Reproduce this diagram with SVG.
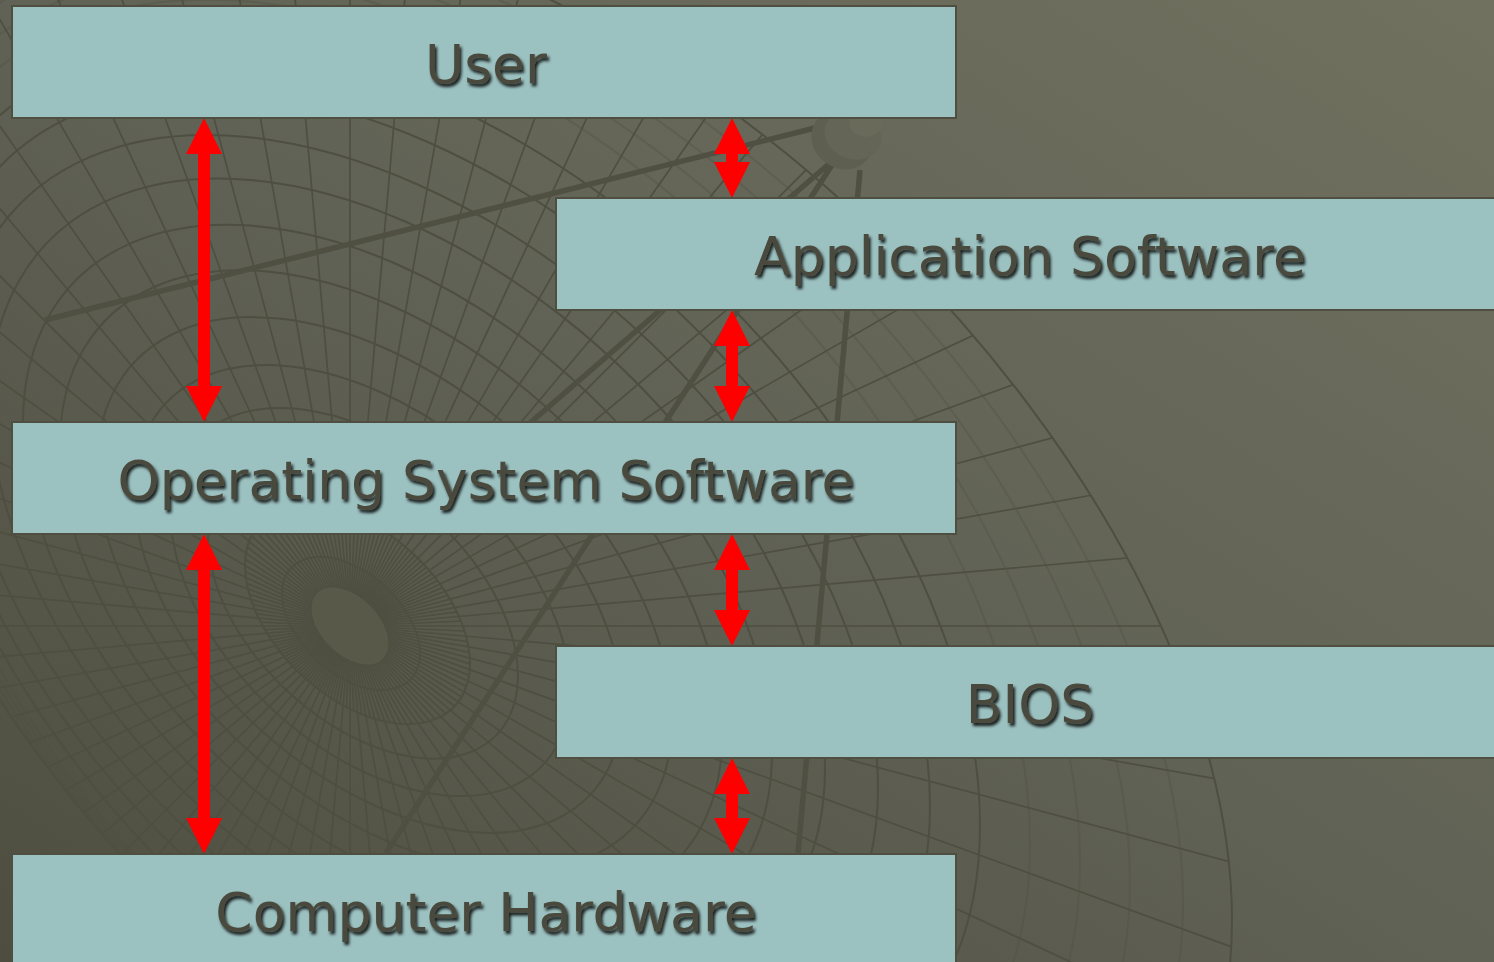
<svg xmlns="http://www.w3.org/2000/svg" width="1494" height="962" viewBox="0 0 1494 962">
<style>
.ring{fill:none;stroke:#4f4f41;stroke-width:2;vector-effect:non-scaling-stroke}
.faint{stroke-opacity:.35}
.spoke{fill:none;stroke:#4f4f41;stroke-width:1.7}
.strut{fill:none;stroke:#505042;stroke-width:5.5}
.box{fill:#9bc1c0;stroke:#4f4f41;stroke-width:2}
.lbl{font-family:"DejaVu Sans","Liberation Sans",sans-serif;font-size:53.5px;fill:#4a4a3e;text-anchor:middle;filter:url(#sh)}
.arrow{stroke:#ff0000;stroke-width:12;fill:none;marker-start:url(#head);marker-end:url(#head)}
</style>
<defs>
<linearGradient id="bg" x1="1" y1="0" x2="0" y2="1">
<stop offset="0" stop-color="#71715f"/><stop offset="0.5" stop-color="#606255"/><stop offset="1" stop-color="#4e4e40"/>
</linearGradient>
<clipPath id="dish"><circle r="1" transform="matrix(697,338,0,590,535,582)"/></clipPath>
<clipPath id="inner"><circle r="1" transform="matrix(112.5,49,0,98,357.5,614.5)"/></clipPath>
<filter id="sh" x="-5%" y="-20%" width="110%" height="140%"><feDropShadow dx="2" dy="3" stdDeviation="1.5" flood-color="#000" flood-opacity="0.85"/></filter>
<line id="sp" class="spoke" x1="-800" y1="626" x2="1500" y2="626"/>
<marker id="head" markerUnits="userSpaceOnUse" markerWidth="36" markerHeight="36" refX="0" refY="18" orient="auto-start-reverse" viewBox="0 0 36 36" overflow="visible"><path d="M0 0L36 18L0 36Z" fill="#ff0000"/></marker>
</defs>
<rect width="1494" height="962" fill="url(#bg)"/>
<g id="background-dish">
<g clip-path="url(#dish)">
<use href="#sp" transform="rotate(0 350 626)"/><use href="#sp" transform="rotate(5 350 626)"/><use href="#sp" transform="rotate(10 350 626)"/><use href="#sp" transform="rotate(15 350 626)"/><use href="#sp" transform="rotate(20 350 626)"/><use href="#sp" transform="rotate(25 350 626)"/><use href="#sp" transform="rotate(30 350 626)"/><use href="#sp" transform="rotate(35 350 626)"/><use href="#sp" transform="rotate(40 350 626)"/><use href="#sp" transform="rotate(45 350 626)"/><use href="#sp" transform="rotate(50 350 626)"/><use href="#sp" transform="rotate(55 350 626)"/><use href="#sp" transform="rotate(60 350 626)"/><use href="#sp" transform="rotate(65 350 626)"/><use href="#sp" transform="rotate(70 350 626)"/><use href="#sp" transform="rotate(75 350 626)"/><use href="#sp" transform="rotate(80 350 626)"/><use href="#sp" transform="rotate(85 350 626)"/><use href="#sp" transform="rotate(90 350 626)"/><use href="#sp" transform="rotate(95 350 626)"/><use href="#sp" transform="rotate(100 350 626)"/><use href="#sp" transform="rotate(105 350 626)"/><use href="#sp" transform="rotate(110 350 626)"/><use href="#sp" transform="rotate(115 350 626)"/><use href="#sp" transform="rotate(120 350 626)"/><use href="#sp" transform="rotate(125 350 626)"/><use href="#sp" transform="rotate(130 350 626)"/><use href="#sp" transform="rotate(135 350 626)"/><use href="#sp" transform="rotate(140 350 626)"/><use href="#sp" transform="rotate(145 350 626)"/><use href="#sp" transform="rotate(150 350 626)"/><use href="#sp" transform="rotate(155 350 626)"/><use href="#sp" transform="rotate(160 350 626)"/><use href="#sp" transform="rotate(165 350 626)"/><use href="#sp" transform="rotate(170 350 626)"/><use href="#sp" transform="rotate(175 350 626)"/>
</g>
<g clip-path="url(#inner)">
<use href="#sp" transform="rotate(2.5 350 626)"/><use href="#sp" transform="rotate(7.5 350 626)"/><use href="#sp" transform="rotate(12.5 350 626)"/><use href="#sp" transform="rotate(17.5 350 626)"/><use href="#sp" transform="rotate(22.5 350 626)"/><use href="#sp" transform="rotate(27.5 350 626)"/><use href="#sp" transform="rotate(32.5 350 626)"/><use href="#sp" transform="rotate(37.5 350 626)"/><use href="#sp" transform="rotate(42.5 350 626)"/><use href="#sp" transform="rotate(47.5 350 626)"/><use href="#sp" transform="rotate(52.5 350 626)"/><use href="#sp" transform="rotate(57.5 350 626)"/><use href="#sp" transform="rotate(62.5 350 626)"/><use href="#sp" transform="rotate(67.5 350 626)"/><use href="#sp" transform="rotate(72.5 350 626)"/><use href="#sp" transform="rotate(77.5 350 626)"/><use href="#sp" transform="rotate(82.5 350 626)"/><use href="#sp" transform="rotate(87.5 350 626)"/><use href="#sp" transform="rotate(92.5 350 626)"/><use href="#sp" transform="rotate(97.5 350 626)"/><use href="#sp" transform="rotate(102.5 350 626)"/><use href="#sp" transform="rotate(107.5 350 626)"/><use href="#sp" transform="rotate(112.5 350 626)"/><use href="#sp" transform="rotate(117.5 350 626)"/><use href="#sp" transform="rotate(122.5 350 626)"/><use href="#sp" transform="rotate(127.5 350 626)"/><use href="#sp" transform="rotate(132.5 350 626)"/><use href="#sp" transform="rotate(137.5 350 626)"/><use href="#sp" transform="rotate(142.5 350 626)"/><use href="#sp" transform="rotate(147.5 350 626)"/><use href="#sp" transform="rotate(152.5 350 626)"/><use href="#sp" transform="rotate(157.5 350 626)"/><use href="#sp" transform="rotate(162.5 350 626)"/><use href="#sp" transform="rotate(167.5 350 626)"/><use href="#sp" transform="rotate(172.5 350 626)"/><use href="#sp" transform="rotate(177.5 350 626)"/>
</g>
<circle class="ring" r="1" transform="matrix(69,30,0,59.3,351,623.5)"/>
<circle class="ring" r="1" transform="matrix(112.5,49,0,98,357.5,614.5)"/>
<circle class="ring" r="1" transform="matrix(155,69,0,135,363,607)"/>
<circle class="ring" r="1" transform="matrix(199.5,88,0,173,370.5,602)"/>
<circle class="ring" r="1" transform="matrix(244,107,0,208,378,599)"/>
<circle class="ring" r="1" transform="matrix(287.5,127,0,246,384.5,594)"/>
<circle class="ring" r="1" transform="matrix(331,146,0,285,391,590.5)"/>
<circle class="ring" r="1" transform="matrix(374.5,165,0,323,397.5,587.5)"/>
<circle class="ring" r="1" transform="matrix(417.5,184,0,362,407.5,584.5)"/>
<circle class="ring" r="1" transform="matrix(461.5,204,0,400,416.5,584)"/>
<circle class="ring" r="1" transform="matrix(500,223,0,440,430,583)"/>
<circle class="ring" r="1" transform="matrix(535,242,0,480,445,583)"/>
<circle class="ring faint" r="1" transform="matrix(567.5,262,0,520,462.5,582)"/>
<circle class="ring faint" r="1" transform="matrix(600,281,0,538,480,582)"/>
<circle class="ring faint" r="1" transform="matrix(632.5,300,0,556,497.5,582)"/>
<circle class="ring faint" r="1" transform="matrix(666.5,320,0,574,516.5,582)"/>
<circle class="ring" r="1" transform="matrix(697,338,0,590,535,582)"/>
<ellipse cx="350" cy="626" rx="47" ry="29" transform="rotate(45 350 626)" fill="#585949" stroke="#4f4f41" stroke-width="1"/>
<path class="strut" d="M45 320L815 128M386 853L832 165M530 423L830 163M798 853L860 170"/>
<ellipse cx="842" cy="140" rx="32" ry="28" transform="rotate(35 842 140)" fill="#5f5f51"/>
<ellipse cx="853" cy="135" rx="29" ry="24" transform="rotate(20 853 135)" fill="#656557"/>
<ellipse cx="866" cy="122" rx="17" ry="15" fill="#6a6a5b"/>
</g>
<g id="connectors">
<line class="arrow" x1="204" y1="154" x2="204" y2="386"/>
<line class="arrow" x1="204" y1="570" x2="204" y2="818"/>
<line class="arrow" x1="732" y1="154" x2="732" y2="162"/>
<line class="arrow" x1="732" y1="346" x2="732" y2="386"/>
<line class="arrow" x1="732" y1="570" x2="732" y2="610"/>
<line class="arrow" x1="732" y1="794" x2="732" y2="818"/>
</g>
<g id="user"><rect class="box" x="12" y="6" width="944" height="112"/><text class="lbl" x="486" y="83">User</text></g>
<g id="application-software"><rect class="box" x="556" y="198" width="960" height="112"/><text class="lbl" x="1030" y="275">Application Software</text></g>
<g id="operating-system-software"><rect class="box" x="12" y="422" width="944" height="112"/><text class="lbl" x="486" y="499">Operating System Software</text></g>
<g id="bios"><rect class="box" x="556" y="646" width="960" height="112"/><text class="lbl" x="1030" y="723">BIOS</text></g>
<g id="computer-hardware"><rect class="box" x="12" y="854" width="944" height="130"/><text class="lbl" x="486" y="931">Computer Hardware</text></g>
</svg>
